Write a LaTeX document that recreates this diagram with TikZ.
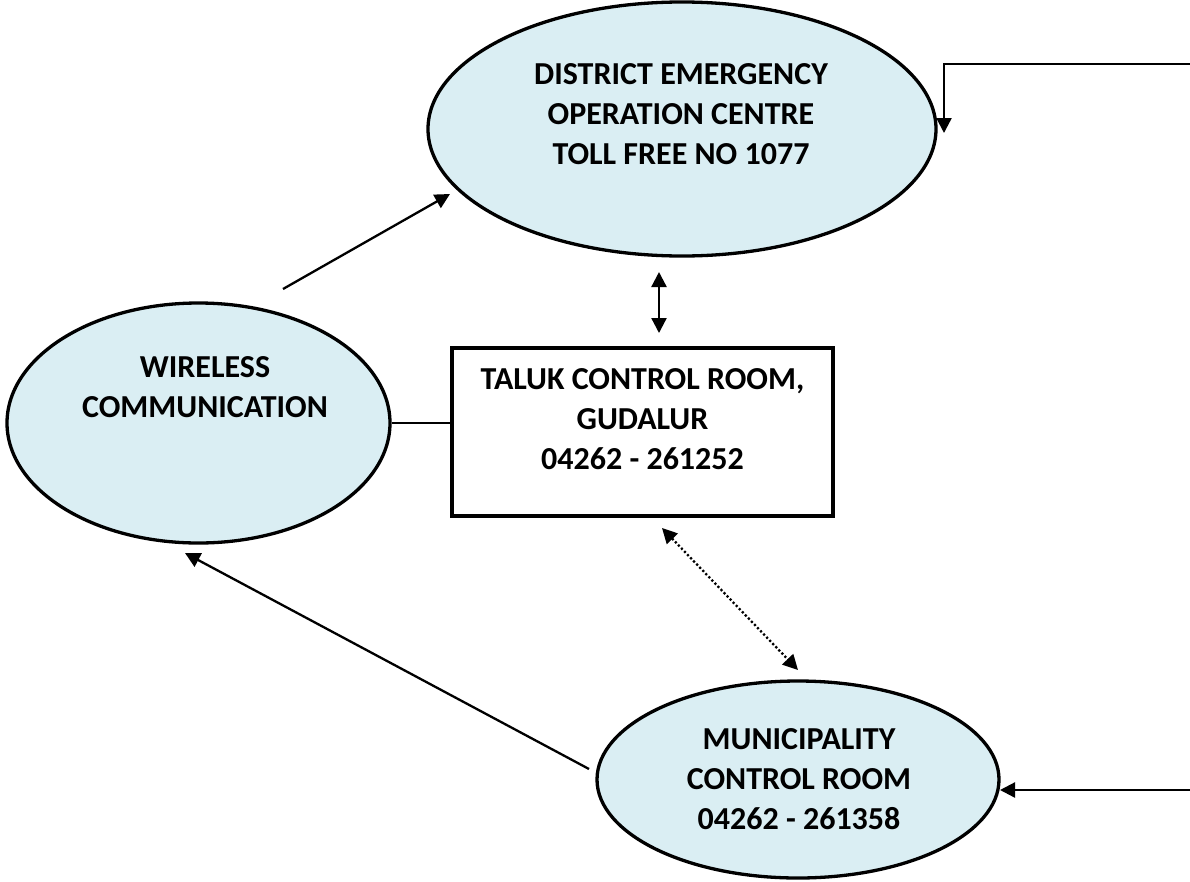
\documentclass[tikz,border=0pt]{standalone}
\usepackage{fontspec}
\setmainfont{Carlito}
\usetikzlibrary{shapes.geometric,arrows.meta}
\definecolor{ellfill}{HTML}{DAEEF3}
\tikzset{
  ell/.style={ellipse, draw=black, line width=3.3pt, fill=ellfill, inner sep=0pt},
  boxnode/.style={rectangle, draw=black, line width=4pt, fill=white, inner sep=0pt},
  lbl/.style={align=center, inner sep=0pt, font=\fontsize{32}{40}\selectfont\bfseries},
  tip/.style={Triangle[length=15pt,width=15pt]},
  arr/.style={line width=2.3pt, -{Triangle[length=15pt,width=15pt]}},
  darr/.style={line width=2.3pt, {Triangle[length=15pt,width=15pt]}-{Triangle[length=15pt,width=15pt]}},
  dotarr/.style={line width=2.3pt, dash pattern=on 2.2pt off 2.2pt, {Triangle[length=15pt,width=15pt]}-{Triangle[length=15pt,width=15pt]}},
  thinline/.style={line width=1.4pt}
}
\begin{document}
\begin{tikzpicture}[x=1pt,y=-1pt]
\useasboundingbox[fill=white] (0,0) rectangle (1190,881);

% shapes
\node[ell, minimum width=508pt, minimum height=254pt] (deoc) at (682,129) {};
\node[ell, minimum width=383pt, minimum height=240pt] (wl) at (198.5,423) {};
\node[boxnode, minimum width=381pt, minimum height=168pt] (taluk) at (642.5,432) {};
\node[ell, minimum width=402pt, minimum height=197pt] (mun) at (798,779.5) {};

% labels
\node[lbl] (deoctxt) at (681,114) {DISTRICT EMERGENCY\\OPERATION CENTRE\\TOLL FREE NO 1077};
\node[lbl] (wltxt) at (205,387.5) {WIRELESS\\COMMUNICATION};
\node[lbl] (taluktxt) at (642.5,419.5) {TALUK CONTROL ROOM,\\GUDALUR\\04262 - 261252};
\node[lbl] (muntxt) at (799,779.5) {MUNICIPALITY\\CONTROL ROOM\\04262 - 261358};

% connector end points
\coordinate (wA) at (283,289);
\coordinate (dA) at (450,194);
\coordinate (vT) at (659,272);
\coordinate (vB) at (659,333);
\coordinate (dT) at (662,528);
\coordinate (dB) at (798,670);
\coordinate (mA) at (589,769);
\coordinate (wB) at (185,553);
\coordinate (trA) at (1190,64);
\coordinate (trB) at (944,64);
\coordinate (trC) at (944,133);
\coordinate (brA) at (1190,790);
\coordinate (brB) at (1000,790);

% connectors
\draw[arr] (wA) -- (dA);
\draw[darr] (vT) -- (vB);
\draw[dotarr] (dT) -- (dB);
\draw[arr] (mA) -- (wB);
\draw[thinline] (wl.east) -- (wl.east -| taluk.west);
\draw[arr] (trA) -- (trB) -- (trC);
\draw[arr] (brA) -- (brB);
\end{tikzpicture}
\end{document}
